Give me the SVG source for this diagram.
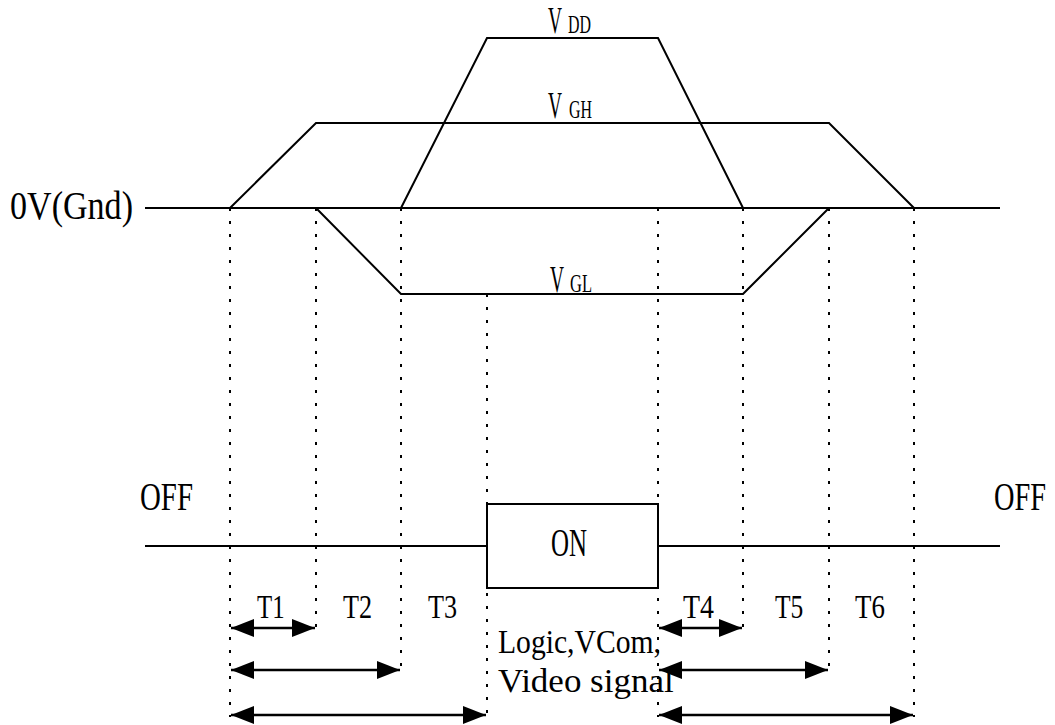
<svg xmlns="http://www.w3.org/2000/svg" width="1055" height="725" viewBox="0 0 1055 725">
<style>
.w{fill:none;stroke:#000;stroke-width:2}
.d{fill:none;stroke:#000;stroke-width:2;stroke-dasharray:3 10}
.a{fill:none;stroke:#000;stroke-width:2.5;marker-start:url(#ah);marker-end:url(#ah)}
text{font-family:"Liberation Serif","DejaVu Serif",serif;fill:#000}
.big{font-size:40px}
.t{font-size:34px}
.v{font-size:38px}
.s{font-size:25px}
.lg{font-size:33px}
</style>
<defs>
<marker id="ah" markerUnits="userSpaceOnUse" markerWidth="24" markerHeight="20" refX="23" refY="9" orient="auto-start-reverse">
<path d="M0,0 L23,9 L0,18 Z" fill="#000"/>
</marker>
</defs>
<rect width="1055" height="725" fill="#fff"/>
<g id="connectors">
<line class="d" x1="230" y1="208" x2="230" y2="717"/>
<line class="d" x1="316" y1="208" x2="316" y2="628"/>
<line class="d" x1="401" y1="208" x2="401" y2="670"/>
<line class="d" x1="487" y1="294" x2="487" y2="717"/>
<line class="d" x1="658" y1="208" x2="658" y2="717"/>
<line class="d" x1="743" y1="208" x2="743" y2="628"/>
<line class="d" x1="829" y1="208" x2="829" y2="670"/>
<line class="d" x1="914" y1="208" x2="914" y2="717"/>
<line class="a" x1="231" y1="628" x2="315" y2="628"/>
<line class="a" x1="231" y1="670" x2="400" y2="670"/>
<line class="a" x1="231" y1="715" x2="486" y2="715"/>
<line class="a" x1="659" y1="628" x2="742" y2="628"/>
<line class="a" x1="659" y1="670" x2="828" y2="670"/>
<line class="a" x1="659" y1="715" x2="913" y2="715"/>
</g>
<g id="gnd">
<line class="w" x1="145" y1="208" x2="1000" y2="208"/>
<text class="big" transform="translate(10,219) scale(0.852,1)">0V(Gnd)</text>
</g>
<g id="vgh">
<polyline class="w" points="230,208 316,123 829,123 914,208"/>
<text class="v" transform="translate(548,118) scale(0.51,1)">V</text>
<text class="s" transform="translate(569,118) scale(0.637,1)">GH</text>
</g>
<g id="vdd">
<polyline class="w" points="401,208 487,38 658,38 743,208"/>
<text class="v" transform="translate(548,33) scale(0.51,1)">V</text>
<text class="s" transform="translate(568,33) scale(0.637,1)">DD</text>
</g>
<g id="vgl">
<polyline class="w" points="316,208 401,294 743,294 829,208"/>
<text class="v" transform="translate(550,292) scale(0.51,1)">V</text>
<text class="s" transform="translate(570,292) scale(0.66,1)">GL</text>
</g>
<g id="signal">
<line class="w" x1="145" y1="546" x2="487" y2="546"/>
<line class="w" x1="658" y1="546" x2="1000" y2="546"/>
<text class="big" transform="translate(140,510) scale(0.722,1)">OFF</text>
<text class="big" transform="translate(994,510) scale(0.71,1)">OFF</text>
</g>
<g id="on">
<rect class="w" x="487" y="504" width="171" height="84"/>
<text class="big" transform="translate(551,556) scale(0.623,1)">ON</text>
</g>
<g id="labels">
<text class="t" transform="translate(257,618) scale(0.73,1)">T1</text>
<text class="t" transform="translate(343,618) scale(0.77,1)">T2</text>
<text class="t" transform="translate(428,618) scale(0.77,1)">T3</text>
<text class="t" transform="translate(683,618) scale(0.82,1)">T4</text>
<text class="t" transform="translate(775,618) scale(0.75,1)">T5</text>
<text class="t" transform="translate(855,618) scale(0.79,1)">T6</text>
<text class="lg" transform="translate(498,653) scale(0.898,1)">Logic,VCom,</text>
<text class="lg" transform="translate(498,692) scale(1.06,1)">Video signal</text>
</g>
</svg>
